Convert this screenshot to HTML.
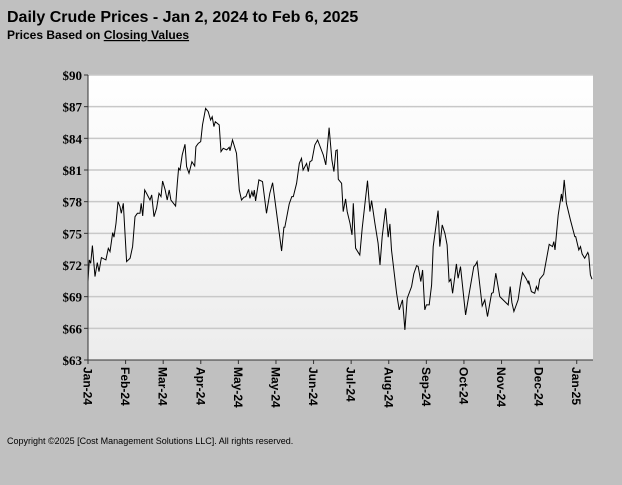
<!DOCTYPE html>
<html><head><meta charset="utf-8"><style>
body{margin:0;background:#c0c0c0;width:622px;height:480px;overflow:hidden;font-family:"Liberation Sans",sans-serif}
</style></head><body>
<svg width="622" height="480" xmlns="http://www.w3.org/2000/svg">
<defs><linearGradient id="bg" x1="0" y1="0" x2="0" y2="1"><stop offset="0" stop-color="#ffffff"/><stop offset="1" stop-color="#ececec"/></linearGradient></defs>
<rect width="622" height="480" fill="#c0c0c0"/>
<text x="7" y="22" font-size="16" font-weight="bold" fill="#000">Daily Crude Prices - Jan 2, 2024 to Feb 6, 2025</text>
<text x="7" y="39" font-size="12" font-weight="bold" fill="#000">Prices Based on <tspan text-decoration="underline">Closing Values</tspan></text>
<rect x="88" y="75" width="505" height="285" fill="url(#bg)"/>
<g id="grid"></g>
<g id="yaxis"></g>
<g id="xaxis"></g>
<path id="line" fill="none" stroke="#000" stroke-width="1"/>
<line x1="88" y1="75" x2="88" y2="360" stroke="#333"/>
<line x1="88" y1="360" x2="593" y2="360" stroke="#333"/>
<text x="7" y="444" font-size="9" fill="#000">Copyright ©2025 [Cost Management Solutions LLC].  All rights reserved.</text>
</svg>
<script>
const yTicks=[63,66,69,72,75,78,81,84,87,90];
const xLabels=["Jan-24","Feb-24","Mar-24","Apr-24","May-24","May-24","Jun-24","Jul-24","Aug-24","Sep-24","Oct-24","Nov-24","Dec-24","Jan-25"];
const days=[0,0.7,1.5,2.4,3.8,5.1,6.0,7.3,9.8,11.1,12.0,13.5,14.2,15.3,16.4,17.5,18.2,19.3,21.1,23.0,24.4,25.7,27.0,28.4,29.1,29.9,31.0,32.0,33.9,34.8,36.1,37.5,38.8,39.9,40.8,42.2,43.3,44.4,45.3,47.9,48.8,49.5,50.3,51.5,53.0,53.9,55.2,56.8,58.3,59.0,60.3,61.6,62.6,64.3,65.7,67.0,67.9,68.8,69.6,71.7,72.7,73.9,75.8,77.2,77.6,79.0,81.2,82.7,83.9,85.2,86.3,87.8,88.5,89.6,90.3,90.9,91.6,93.4,95.4,97.6,99.4,100.9,105.8,107.1,107.6,110.0,111.4,112.2,114.0,115.5,116.7,117.6,119.5,120.4,121.3,122.4,124.0,125.5,128.6,130.0,131.8,133.3,134.4,135.5,136.2,136.8,138.6,139.5,140.8,141.7,143.2,144.3,145.0,146.3,148.6,149.9,152.8,154.1,155.0,156.8,158.6,159.6,160.8,162.7,164.1,165.0,165.9,168.7,170.1,171.9,173.2,174.5,176.9,178.1,179.6,180.5,181.9,182.9,184.1,185.0,186.5,187.8,188.7,191.4,192.3,193.6,195.1,196.3,197.4,198.3,199.3,201.4,202.3,203.6,206.4,208.4,210.9,211.8,212.7,215.5,216.9,218.4,220.6,221.5,222.9,225.1,226.9,229.7,230.8,231.7,232.8,235.1,236.4,237.5,239.7,240.6,240.9,242.4,244.2,245.1,246.0,246.9,249.1,252.1,253.9,254.6,255.3,257.0,258.8,259.3,260.3,261.5,263.7,266.1,266.6,268.3,269.2,270.1,271.5,273.2,273.7,274.6,275.5];
const prices=[70.43,72.48,72.16,73.84,70.90,72.23,71.37,72.70,72.48,73.58,73.27,75.07,74.63,75.95,78.0,77.53,76.90,77.85,72.32,72.64,73.74,76.58,76.90,76.90,77.85,76.65,79.11,78.79,78.16,78.64,76.58,77.37,78.79,78.48,79.96,79.11,78.16,79.11,78.16,77.59,79.74,81.16,81.0,82.42,83.43,81.32,80.69,81.79,81.38,83.21,83.53,83.69,85.27,86.84,86.53,85.74,86.05,85.11,85.58,85.27,82.74,83.06,82.90,83.15,82.83,83.85,82.58,79.11,78.16,78.41,78.48,79.17,78.32,78.95,78.48,79.11,78.07,80.06,79.9,76.9,78.79,79.80,73.33,75.57,75.57,77.78,78.48,78.48,79.74,81.63,82.11,81.0,81.63,80.85,81.79,81.89,83.37,83.84,82.42,81.48,85.01,81.95,80.85,82.84,82.9,80.12,79.74,77.06,78.26,77.06,75.95,74.85,77.85,73.59,72.95,75.48,79.99,77.06,78.10,75.95,74.06,72.01,74.69,77.37,74.63,75.89,73.43,69.32,67.75,68.69,65.85,68.85,69.96,71.16,71.94,71.85,70.43,71.53,67.75,68.22,68.22,70.11,73.74,77.15,73.74,75.80,75.0,73.90,70.43,70.65,69.32,72.10,70.74,71.85,67.27,69.32,71.85,72.01,72.32,68.12,68.69,67.11,69.32,69.39,71.22,69.01,68.69,68.22,69.96,68.44,67.59,68.69,70.27,71.28,70.65,70.27,70.52,69.48,69.32,69.96,69.64,70.65,71.12,73.96,73.74,74.22,73.43,76.74,78.73,78.01,80.06,77.85,76.27,74.69,74.69,73.43,73.74,73.05,72.64,73.18,72.95,71.06,70.65];
const X0=88,X1=593,Y0=75,Y1=360,DMAX=275.5,TICKDAYS=20.55;
const xs=d=>X0+d*(X1-1-X0)/DMAX;
const ys=v=>Y1-(v-63)*(Y1-Y0)/(90-63);
const NS="http://www.w3.org/2000/svg";
const grid=document.getElementById('grid'),ya=document.getElementById('yaxis'),xa=document.getElementById('xaxis');
yTicks.forEach(t=>{
  const y=ys(t);
  if(t>63){const l=document.createElementNS(NS,'line');
  l.setAttribute('x1',X0);l.setAttribute('x2',X1);l.setAttribute('y1',y);l.setAttribute('y2',y);
  l.setAttribute('stroke','#c8c8c8');l.setAttribute('stroke-width','1.5');
  
  
  grid.appendChild(l);}
  const tk=document.createElementNS(NS,'line');
  tk.setAttribute('x1',X0-4);tk.setAttribute('x2',X0);tk.setAttribute('y1',y);tk.setAttribute('y2',y);tk.setAttribute('stroke','#333');
  
  
  ya.appendChild(tk);
  const tx=document.createElementNS(NS,'text');
  tx.setAttribute('x',X0-6);tx.setAttribute('y',y+5);tx.setAttribute('text-anchor','end');
  tx.setAttribute('font-family','Liberation Serif, serif');tx.setAttribute('font-weight','bold');tx.setAttribute('font-size','13');
  tx.textContent='$'+t;
  
  
  ya.appendChild(tx);
});
xLabels.forEach((lb,i)=>{
  const x=xs(i*TICKDAYS);
  const tk=document.createElementNS(NS,'line');
  tk.setAttribute('x1',x);tk.setAttribute('x2',x);tk.setAttribute('y1',Y1);tk.setAttribute('y2',Y1+4);tk.setAttribute('stroke','#333');
  
  
  xa.appendChild(tk);
  const tx=document.createElementNS(NS,'text');
  tx.setAttribute('transform','translate('+(x-4.5)+','+(Y1+7)+') rotate(90)');
  tx.setAttribute('font-weight','bold');tx.setAttribute('font-size','12');
  tx.textContent=lb;
  
  
  xa.appendChild(tx);
});
document.getElementById('line').setAttribute('d',days.map((d,i)=>(i?'L':'M')+xs(d).toFixed(1)+','+ys(prices[i]).toFixed(1)).join(''));
</script>
</body></html>
